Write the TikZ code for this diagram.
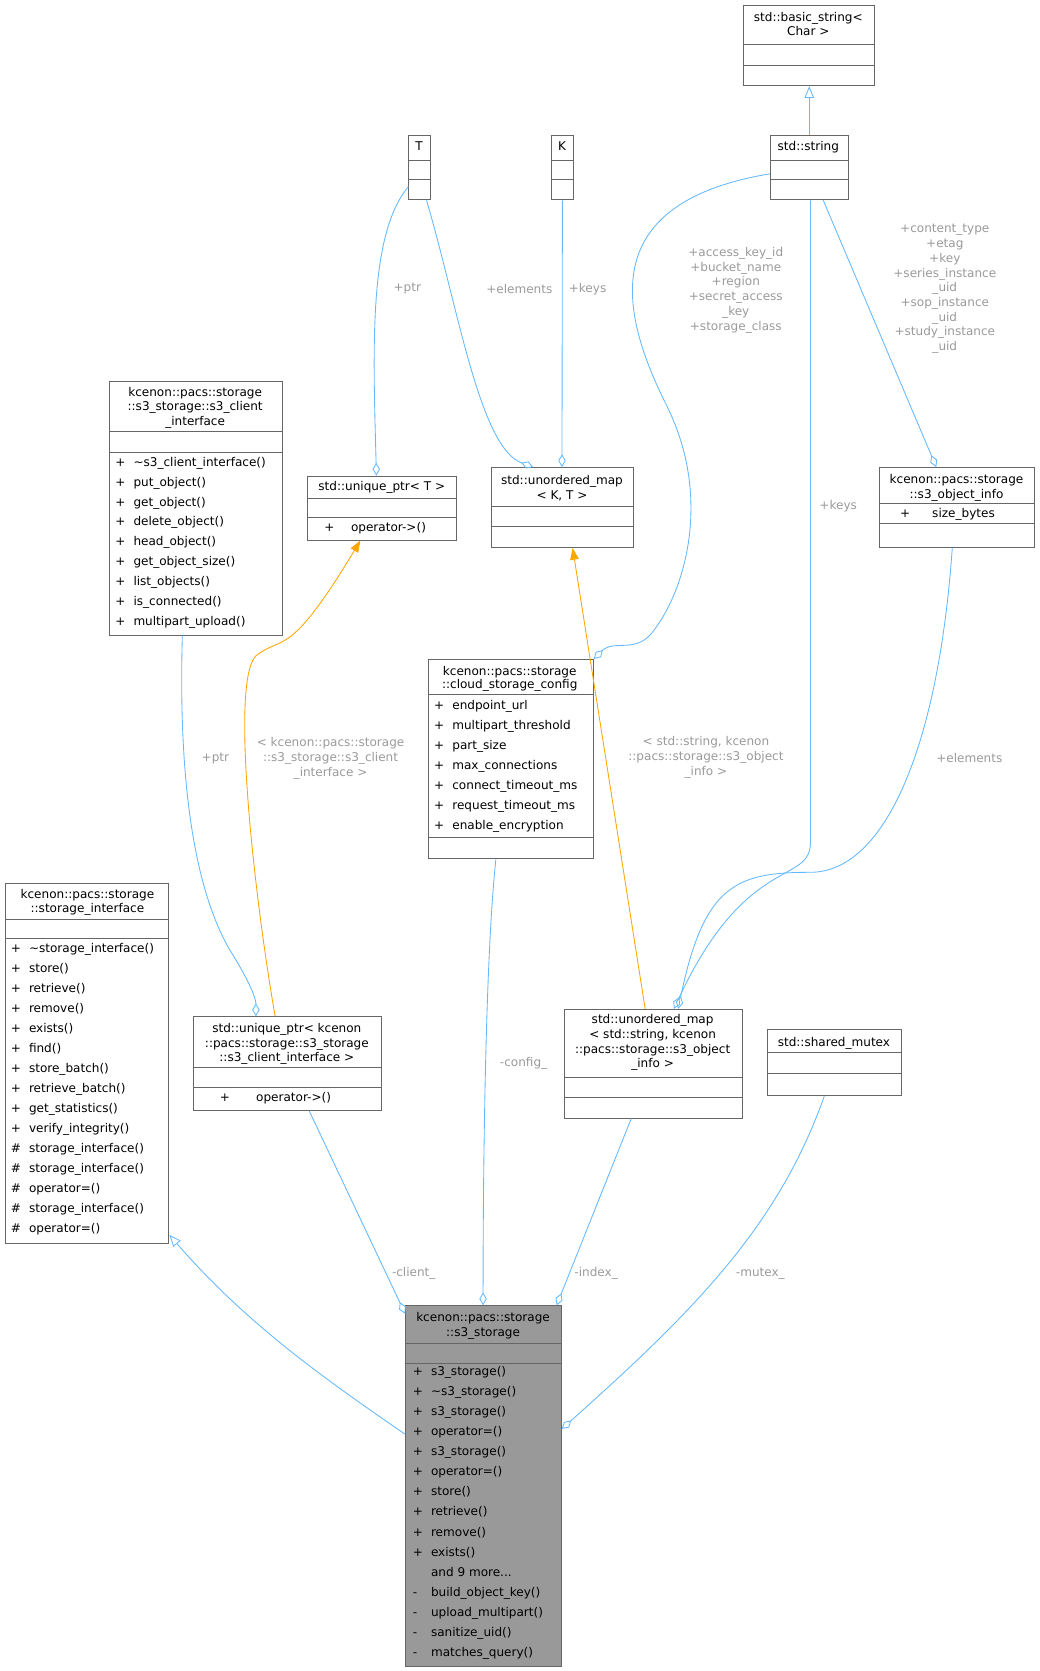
\documentclass[tikz,border=0pt]{standalone}
\usepackage{fontspec}
\setmainfont{DejaVu Sans}
\usetikzlibrary{arrows.meta}
\definecolor{edge}{HTML}{63B8FF}
\definecolor{lab}{HTML}{9A9A9A}
\definecolor{bx}{HTML}{666666}
\definecolor{tor}{HTML}{FFA500}
\newcommand{\cls}[8]{%
 \node[draw=bx,fill=#8,line width=0.8pt,anchor=north west,inner sep=0,minimum width={(#4-#2)*1pt},minimum height={(#5-#3)*1pt}] (#1) at (#2,#3) {};
 \draw[bx,line width=0.8pt] (#2,#6)--(#4,#6) (#2,#7)--(#4,#7);}
\newcommand{\hd}[3]{\node[anchor=base] at (#1,#2+4) {#3};}
\newcommand{\mb}[4]{\node[anchor=base west] at (#1,#3+4) {#2}; \node[anchor=base west] at (#1+17,#3+4) {#4};}
\newcommand{\andmore}{and 9 more.\kern0pt.\kern0pt.}
\begin{document}
\begin{tikzpicture}[x=1pt,y=-1pt,font=\fontsize{11.3}{13}\selectfont,inner sep=0,
 e/.style={edge,line width=0.8pt},
 agg/.style={e,-{Diamond[open,length=12pt,width=7pt]}},
 inh/.style={e,-{Triangle[open,length=11pt,width=9pt]}},
 tmpl/.style={tor,line width=0.8pt,-{Triangle[length=11pt,width=8pt]}},
 l/.style={lab,align=center,font=\fontsize{11.3}{13.8}\selectfont}]
\useasboundingbox (0,0) rectangle (975,1567);
% boxes
\cls{bs}{697}{5}{820}{80}{42}{61}{white}
\hd{758}{16}{std::basic\_string<}\hd{758}{29}{Char >}
\cls{str}{722}{127}{795}{187}{150}{168}{white}
\hd{758}{137}{std::string}
\cls{T}{383}{127}{403}{187}{150}{168}{white}\hd{393}{137}{T}
\cls{K}{517}{127}{537}{187}{150}{168}{white}\hd{527}{137}{K}
\cls{ci}{102}{357}{264}{595}{405}{424}{white}
\hd{183}{368}{kcenon::pacs::storage}\hd{183}{381}{::s3\_storage::s3\_client}\hd{183}{395}{\_interface}
\foreach \t [count=\i from 0] in {\textasciitilde s3\_client\_interface(),put\_object(),get\_object(),delete\_object(),head\_object(),get\_object\_size(),list\_objects(),is\_connected(),multipart\_upload()}
 {\mb{108}{+}{433+18.75*\i}{\t}}
\cls{upT}{288}{446}{428}{506}{467}{485}{white}
\hd{358}{456}{std::unique\_ptr< T >}
\node[anchor=base west] at (304,498) {+}; \node[anchor=base west] at (329,498) {operator->()};
\cls{umKT}{460}{438}{594}{513}{475}{494}{white}
\hd{527}{450}{std::unordered\_map}\hd{527}{464}{< K, T >}
\cls{oi}{824}{438}{970}{513}{472}{491}{white}
\hd{897}{449}{kcenon::pacs::storage}\hd{897}{463}{::s3\_object\_info}
\node[anchor=base west] at (844,485) {+}; \node[anchor=base west] at (874,485) {size\_bytes};
\cls{cfg}{401}{618}{556}{805}{651}{785}{white}
\hd{478}{629}{kcenon::pacs::storage}\hd{478}{642}{::cloud\_storage\_config}
\foreach \t [count=\i from 0] in {endpoint\_url,multipart\_threshold,part\_size,max\_connections,connect\_timeout\_ms,request\_timeout\_ms,enable\_encryption}
 {\mb{407}{+}{661+18.8*\i}{\t}}
\cls{si}{5}{828}{158}{1166}{862}{880}{white}
\hd{82}{839}{kcenon::pacs::storage}\hd{82}{852}{::storage\_interface}
\foreach \s/\t [count=\i from 0] in {+/\textasciitilde storage\_interface(),+/store(),+/retrieve(),+/remove(),+/exists(),+/find(),+/store\_batch(),+/retrieve\_batch(),+/get\_statistics(),+/verify\_integrity(),\#/storage\_interface(),\#/storage\_interface(),\#/operator=(),\#/storage\_interface(),\#/operator=()}
 {\mb{10}{\s}{889+18.8*\i}{\t}}
\cls{upC}{181}{953}{357}{1041}{1001}{1020}{white}
\hd{269}{964}{std::unique\_ptr< kcenon}\hd{269}{978}{::pacs::storage::s3\_storage}\hd{269}{991}{::s3\_client\_interface >}
\node[anchor=base west] at (206,1033) {+}; \node[anchor=base west] at (240,1033) {operator->()};
\cls{umS}{529}{946}{696}{1048}{1010}{1029}{white}
\hd{612}{956}{std::unordered\_map}\hd{612}{970}{< std::string, kcenon}\hd{612}{984}{::pacs::storage::s3\_object}\hd{612}{997}{\_info >}
\cls{mx}{719}{965}{845}{1027}{987}{1007}{white}
\hd{782}{977}{std::shared\_mutex}
\cls{s3}{380}{1224}{526}{1562}{1260}{1279}{black!40}
\hd{453}{1235}{kcenon::pacs::storage}\hd{453}{1249}{::s3\_storage}
\foreach \s/\t [count=\i from 0] in {+/s3\_storage(),+/\textasciitilde s3\_storage(),+/s3\_storage(),+/operator=(),+/s3\_storage(),+/operator=(),+/store(),+/retrieve(),+/remove(),+/exists(),{}/\andmore,-/build\_object\_key(),-/upload\_multipart(),-/sanitize\_uid(),-/matches\_query()}
 {\mb{387}{\s}{1286+18.8*\i}{\t}}
% edges
\draw[inh] (str.north) -- (bs.south);
\draw[inh] (s3.west|-0,1345) .. controls (300,1290) and (230,1240) .. (si.south east|-0,1158);
\draw[agg] (T.west|-0,175) .. controls (345,220) and (350,330) .. (upT.north-|353,0);
\node[l] at (382,271) {+ptr};
\draw[agg] (T.south-|400,0) .. controls (430,290) and (450,420) .. (umKT.north-|500,0);
\node[l] at (487,271) {+elements};
\draw[agg] (K.south) -- (umKT.north-|527,0);
\node[l] at (551,271) {+keys};
\draw[agg] (str.west|-0,163) .. controls (560,190) and (580,290) .. (625,380) .. controls (670,470) and (640,560) .. (610,595) .. controls (595,612) and (575,600) .. (cfg.north east);
\node[l] at (690,272) {+access\_key\_id\\+bucket\_name\\+region\\+secret\_access\\\_key\\+storage\_class};
\draw[agg] (str.south-|760,0) -- (760,790) .. controls (760,830) and (700,800) .. (umS.north-|632,0);
\node[l] at (786,475) {+keys};
\draw[agg] (str.south-|772,0) -- (oi.north-|878,0);
\node[l] at (886,271) {+content\_type\\+etag\\+key\\+series\_instance\\\_uid\\+sop\_instance\\\_uid\\+study\_instance\\\_uid};
\draw[agg] (oi.south-|893,0) .. controls (880,700) and (830,818) .. (760,818) .. controls (690,818) and (660,830) .. (umS.north-|636,0);
\node[l] at (909,711) {+elements};
\draw[tmpl] (umS.north-|605,0) -- (umKT.south-|537,0);
\node[l] at (662,710) {< std::string, kcenon\\::pacs::storage::s3\_object\\\_info >};
\draw[tmpl] (upC.north-|258,0) .. controls (240,850) and (215,640) .. (240,615) .. controls (265,595) and (270,620) .. (upT.south-|338,0);
\node[l] at (310,711) {< kcenon::pacs::storage\\::s3\_storage::s3\_client\\\_interface >};
\draw[agg] (ci.south-|171,0) .. controls (168,700) and (175,820) .. (215,890) .. controls (240,930) and (240,940) .. (upC.north-|240,0);
\node[l] at (202,711) {+ptr};
\draw[agg] (cfg.south-|465,0) .. controls (455,900) and (453,1100) .. (s3.north-|453,0);
\node[l] at (491,997) {-config\_};
\draw[agg] (upC.south-|290,0) -- (s3.north west|-0,1232);
\node[l] at (388,1194) {-client\_};
\draw[agg] (umS.south-|592,0) -- (s3.north-|522,0);
\node[l] at (559,1194) {-index\_};
\draw[agg] (mx.south-|773,0) .. controls (730,1150) and (650,1230) .. (s3.east|-0,1340);
\node[l] at (713,1194) {-mutex\_};
\end{tikzpicture}
\end{document}
